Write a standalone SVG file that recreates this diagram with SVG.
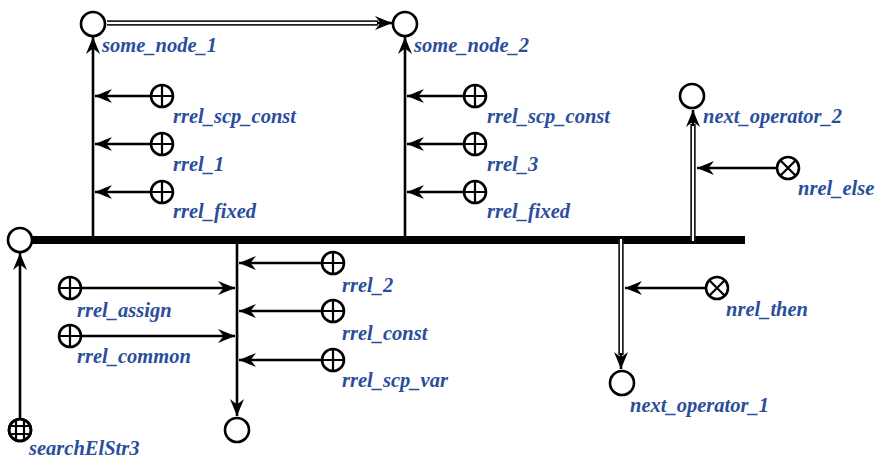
<svg xmlns="http://www.w3.org/2000/svg" width="875" height="465" viewBox="0 0 875 465">
<defs>
<marker id="ah" markerUnits="userSpaceOnUse" markerWidth="20" markerHeight="16" viewBox="-19 -8 20 16" refX="0" refY="0" orient="auto">
<path d="M0,0 L-17,-7 L-11.5,0 L-17,7 Z" fill="#000"/>
</marker>
</defs>
<style>
.nd{fill:#fff;stroke:#000;stroke-width:2.6}
.in{stroke:#000;stroke-width:2.2;fill:none}
.ar{stroke:#000;stroke-width:2.6;fill:none;marker-end:url(#ah)}
.do{stroke:#222;stroke-width:5.5;fill:none}
.di{stroke:#fff;stroke-width:2;fill:none}
.lb{font-family:"Liberation Serif",serif;font-style:italic;font-weight:bold;font-size:20.5px;fill:#2a4d9c}
</style>
<g id="connectors">
<line x1="31" y1="240" x2="745" y2="240" stroke="#000" stroke-width="8"/>
<line class="ar" x1="93" y1="244" x2="93" y2="37"/>
<line class="ar" x1="405" y1="244" x2="405" y2="37"/>
<line class="ar" x1="151" y1="96" x2="95" y2="96"/>
<line class="ar" x1="151" y1="144" x2="95" y2="144"/>
<line class="ar" x1="151" y1="192" x2="95" y2="192"/>
<line class="ar" x1="464" y1="96" x2="407" y2="96"/>
<line class="ar" x1="464" y1="144" x2="407" y2="144"/>
<line class="ar" x1="464" y1="192" x2="407" y2="192"/>
<line class="do" x1="107" y1="23" x2="378" y2="23"/>
<line class="di" x1="107" y1="23" x2="380" y2="23"/>
<line class="ar" x1="377" y1="23" x2="392" y2="23"/>
<line class="do" x1="693" y1="240" x2="693" y2="124"/>
<line class="di" x1="693" y1="241" x2="693" y2="122"/>
<line class="ar" x1="693" y1="126" x2="693" y2="110"/>
<line class="ar" x1="776" y1="168" x2="697" y2="168"/>
<line class="do" x1="621" y1="240" x2="621" y2="355"/>
<line class="di" x1="621" y1="239" x2="621" y2="357"/>
<line class="ar" x1="621" y1="353" x2="621" y2="369"/>
<line class="ar" x1="705" y1="288" x2="625" y2="288"/>
<line class="ar" x1="237" y1="240" x2="237" y2="416"/>
<line class="ar" x1="322" y1="263" x2="239" y2="263"/>
<line class="ar" x1="322" y1="311" x2="239" y2="311"/>
<line class="ar" x1="322" y1="360" x2="239" y2="360"/>
<line class="ar" x1="81" y1="288" x2="235" y2="288"/>
<line class="ar" x1="81" y1="336" x2="235" y2="336"/>
<line class="ar" x1="20" y1="418" x2="20" y2="253"/>
</g>
<g id="n_start"><circle class="nd" cx="20" cy="240" r="12"/></g>
<g id="some_node_1"><circle class="nd" cx="93" cy="24" r="12"/><text class="lb" x="102" y="52">some_node_1</text></g>
<g id="some_node_2"><circle class="nd" cx="405" cy="24" r="12"/><text class="lb" x="414" y="52">some_node_2</text></g>
<g id="next_operator_2"><circle class="nd" cx="692" cy="96" r="12"/><text class="lb" x="703" y="123">next_operator_2</text></g>
<g id="next_operator_1"><circle class="nd" cx="622" cy="383" r="12"/><text class="lb" x="630" y="412">next_operator_1</text></g>
<g id="n_bottom"><circle class="nd" cx="237" cy="430" r="12"/></g>
<g id="searchElStr3"><circle class="nd" cx="20" cy="430" r="11"/><path class="in" d="M16,420 V440 M24,420 V440 M10,426 H30 M10,434 H30"/><circle cx="20" cy="430" r="11" fill="none" stroke="#000" stroke-width="2.6"/><text class="lb" x="29" y="455">searchElStr3</text></g>
<g id="rrel_scp_const_1"><circle class="nd" cx="162" cy="96" r="11"/><path class="in" d="M151,96 H173 M162,85 V107"/><text class="lb" x="173" y="123">rrel_scp_const</text></g>
<g id="rrel_1"><circle class="nd" cx="162" cy="144" r="11"/><path class="in" d="M151,144 H173 M162,133 V155"/><text class="lb" x="173" y="171">rrel_1</text></g>
<g id="rrel_fixed_1"><circle class="nd" cx="162" cy="192" r="11"/><path class="in" d="M151,192 H173 M162,181 V203"/><text class="lb" x="173" y="218">rrel_fixed</text></g>
<g id="rrel_scp_const_2"><circle class="nd" cx="475" cy="96" r="11"/><path class="in" d="M464,96 H486 M475,85 V107"/><text class="lb" x="487" y="123">rrel_scp_const</text></g>
<g id="rrel_3"><circle class="nd" cx="475" cy="144" r="11"/><path class="in" d="M464,144 H486 M475,133 V155"/><text class="lb" x="487" y="171">rrel_3</text></g>
<g id="rrel_fixed_2"><circle class="nd" cx="475" cy="192" r="11"/><path class="in" d="M464,192 H486 M475,181 V203"/><text class="lb" x="487" y="218">rrel_fixed</text></g>
<g id="nrel_else"><circle class="nd" cx="788" cy="168" r="11"/><path class="in" d="M780,160 L796,176 M796,160 L780,176"/><text class="lb" x="798" y="195">nrel_else</text></g>
<g id="nrel_then"><circle class="nd" cx="717" cy="288" r="11"/><path class="in" d="M709,280 L725,296 M725,280 L709,296"/><text class="lb" x="726" y="316">nrel_then</text></g>
<g id="rrel_2"><circle class="nd" cx="333" cy="263" r="11"/><path class="in" d="M322,263 H344 M333,252 V274"/><text class="lb" x="342" y="292">rrel_2</text></g>
<g id="rrel_const"><circle class="nd" cx="333" cy="311" r="11"/><path class="in" d="M322,311 H344 M333,300 V322"/><text class="lb" x="342" y="340">rrel_const</text></g>
<g id="rrel_scp_var"><circle class="nd" cx="333" cy="360" r="11"/><path class="in" d="M322,360 H344 M333,349 V371"/><text class="lb" x="342" y="387">rrel_scp_var</text></g>
<g id="rrel_assign"><circle class="nd" cx="70" cy="288" r="11"/><path class="in" d="M59,288 H81 M70,277 V299"/><text class="lb" x="77" y="317">rrel_assign</text></g>
<g id="rrel_common"><circle class="nd" cx="70" cy="336" r="11"/><path class="in" d="M59,336 H81 M70,325 V347"/><text class="lb" x="77" y="363">rrel_common</text></g>
</svg>
